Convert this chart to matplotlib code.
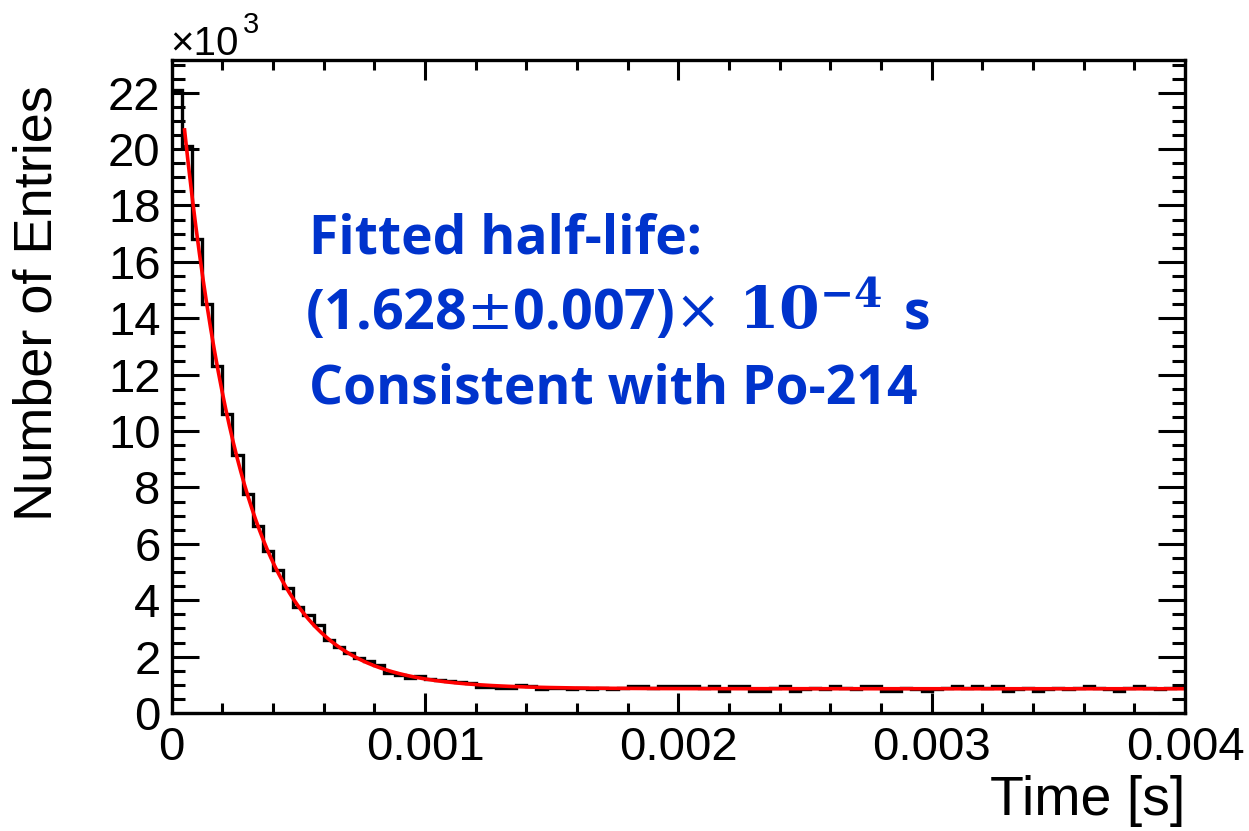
import numpy as np
import matplotlib
matplotlib.use("Agg")
import matplotlib.pyplot as plt
from matplotlib.ticker import MultipleLocator, FuncFormatter

# ---------------- data ----------------
bin_width = 0.00004
n_bins = 100
edges = np.arange(n_bins + 1) * bin_width

counts = [
    22100, 20100, 16800, 14500, 12300, 10600, 9150, 7770, 6630, 5740,
    5070, 4430, 3760, 3480, 3120, 2590, 2340, 2130, 1950, 1850,
    1700, 1430, 1350, 1240, 1300, 1190, 1170, 1150, 1110, 1050,
    930, 930, 870, 870, 1000, 960, 850, 870, 870, 850,
    870, 860, 870, 865, 870, 950, 945, 870, 950, 945,
    950, 945, 870, 950, 780, 945, 950, 780, 785, 870,
    950, 780, 860, 870, 865, 950, 870, 865, 950, 940,
    780, 790, 870, 860, 780, 865, 870, 950, 870, 950,
    870, 950, 780, 865, 870, 780, 865, 870, 860, 870,
    950, 870, 865, 780, 870, 950, 870, 860, 870, 950,
]

# fit parameters (exponential decay + flat background)
fit_amplitude = 24600.0
fit_half_life = 1.628e-4
fit_background = 860.0
fit_start, fit_end = 0.00005, 0.004

x_label = "Time [s]"
y_label = "Number of Entries"
line1 = "Fitted half-life:"
line2_a = r"(1.628$\pm$0.007)$\times$"
line2_b = r"$\mathbf{10^{-4}}$"
line2_c = "s"
line3 = "Consistent with Po-214"

# ---------------- figure ----------------
W, H = 1249, 831
fig = plt.figure(figsize=(W / 100, H / 100), dpi=100)
L, R, T, B = 171.7, 1185.0, 60.0, 713.0
ax = fig.add_axes([L / W, 1 - B / H, (R - L) / W, (B - T) / H])

ax.stairs(counts, edges, baseline=None, color="black", lw=2.4)

t = np.linspace(fit_start, fit_end, 800)
fit = fit_amplitude * np.exp(-np.log(2) * t / fit_half_life) + fit_background
ax.plot(t, fit, color="#ff0000", lw=2.6, solid_capstyle="butt")

ax.set_xlim(0, 0.004)
ax.set_ylim(0, 23160)

ax.xaxis.set_major_locator(MultipleLocator(0.001))
ax.xaxis.set_minor_locator(MultipleLocator(0.0002))
ax.yaxis.set_major_locator(MultipleLocator(2000))
ax.yaxis.set_minor_locator(MultipleLocator(500))

ax.xaxis.set_major_formatter(FuncFormatter(lambda v, p: "0" if abs(v) < 1e-12 else f"{v:.3f}"))
ax.yaxis.set_major_formatter(FuncFormatter(lambda v, p: f"{v/1000:.0f}"))

for s in ax.spines.values():
    s.set_linewidth(2.4)

ax.tick_params(axis="both", which="both", direction="in", top=True, right=True,
               width=2.2, labelsize=34)
ax.tick_params(axis="x", which="major", length=14.5, pad=9)
ax.tick_params(axis="x", which="minor", length=7)
ax.tick_params(axis="y", which="major", length=19.5, pad=8)
ax.tick_params(axis="y", which="minor", length=9.5)
for lab in ax.get_xticklabels() + ax.get_yticklabels():
    lab.set_family("Liberation Sans")

ax.set_xlabel(x_label, fontsize=40, family="Liberation Sans", loc="right")
ax.xaxis.set_label_coords(1.0, -0.095)
ax.set_ylabel(y_label, fontsize=39, family="Liberation Sans", loc="top")
ax.yaxis.set_label_coords(-0.108, 0.962)

# axis multiplier
fig.text(170 / W, 1 - 55 / H, "×10", fontsize=29, family="Liberation Sans",
         ha="left", va="baseline")
fig.text(243 / W, 1 - 33 / H, "3", fontsize=21, family="Liberation Sans",
         ha="left", va="baseline")

blue = "#0033cc"
kw = dict(family="Open Sans", fontweight="bold", color=blue, ha="left",
          va="baseline", math_fontfamily="dejavuserif")
fig.text(309 / W, 1 - 254 / H, line1, fontsize=38.5, **kw)
fig.text(305 / W, 1 - 329 / H, line2_a, fontsize=40, **kw)
fig.text(738 / W, 1 - 329 / H, line2_b, fontsize=42, **kw)
fig.text(904 / W, 1 - 329 / H, line2_c, fontsize=38.5, **kw)
fig.text(309 / W, 1 - 404 / H, line3, fontsize=38.5, **kw)

fig.savefig("out.png", dpi=100)
